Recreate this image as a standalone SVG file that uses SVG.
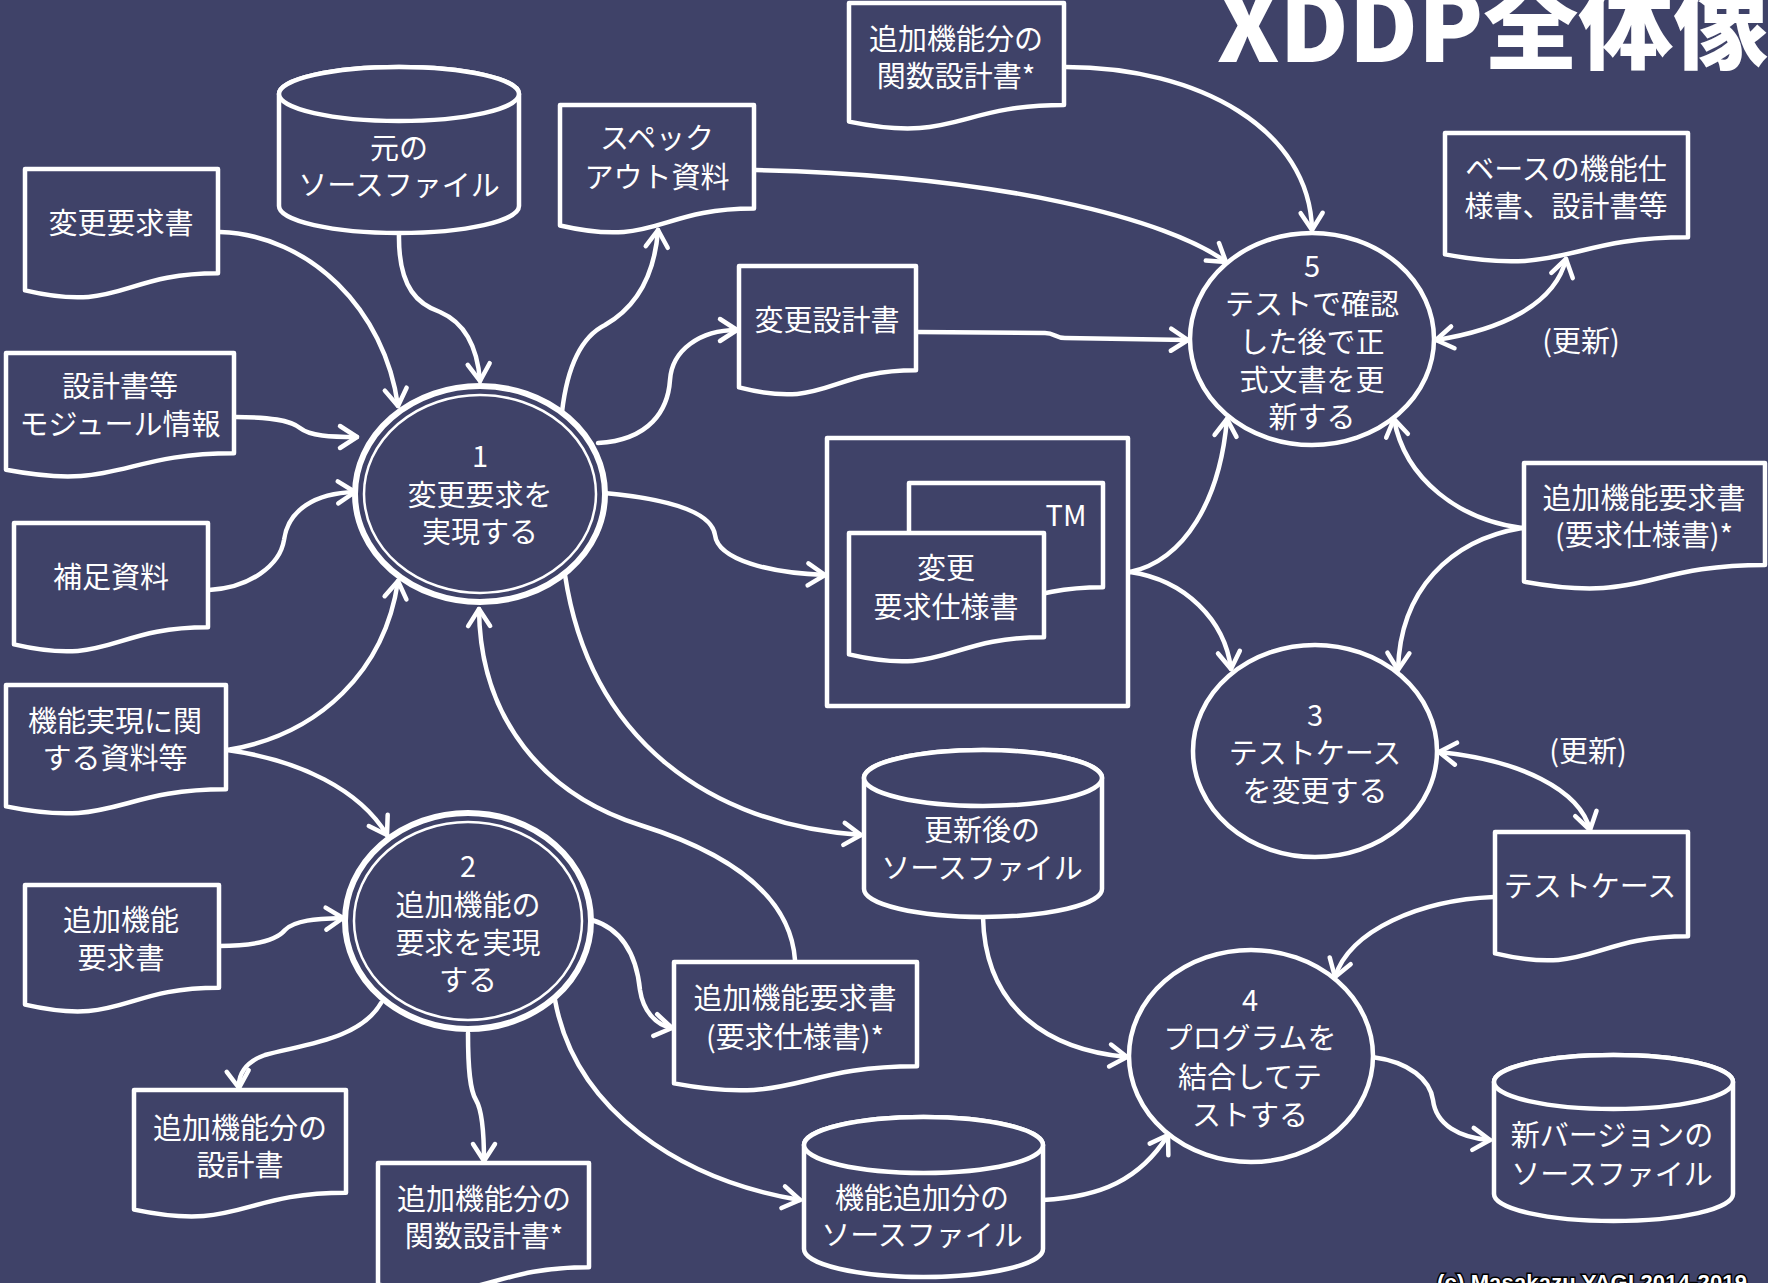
<svg xmlns="http://www.w3.org/2000/svg" width="1768" height="1283" viewBox="0 0 1768 1283">
<defs>
<style>
.shape{fill:#3f4268;stroke:#fff;stroke-width:4.5;stroke-linejoin:round}
.ring{fill:none;stroke:#fff;stroke-width:2.5}
.conn{fill:none;stroke:#fff;stroke-width:4.5;stroke-linecap:round}
.t{font-family:"Noto Sans CJK JP","Noto Sans",sans-serif;font-size:29px;fill:#fff;text-anchor:middle;dominant-baseline:central;transform:translate(0px,-3px)}
</style>
<marker id="ah" viewBox="-22 -15 26 30" refX="0" refY="0" markerWidth="26" markerHeight="30" markerUnits="userSpaceOnUse" orient="auto-start-reverse">
<path d="M-17,-11 L0,0 L-17,11" fill="none" stroke="#fff" stroke-width="4.5" stroke-linecap="round" stroke-linejoin="round"/>
</marker>
</defs>
<rect width="1768" height="1283" fill="#3f4268"/>

<g id="connectors" marker-end="url(#ah)">
<path class="conn" d="M220,232 C310,235 385,310 398,406"/>
<path class="conn" d="M399,234 C398,290 420,305 440,312 C470,325 478,355 480,381"/>
<path class="conn" d="M235,417 C270,417 290,420 300,428 C310,436 330,437 357,437"/>
<path class="conn" d="M209,590 C250,588 280,565 284,540 C288,510 315,493 355,492"/>
<path class="conn" d="M227,750 C320,735 385,670 398,581"/>
<path class="conn" d="M227,750 C300,760 360,790 387,835"/>
<path class="conn" d="M562,412 C568,360 585,335 605,325 C640,305 655,270 658,230"/>
<path class="conn" d="M598,443 C650,440 668,410 670,380 C672,350 700,330 737,330"/>
<path class="conn" d="M916,332 L1045,333 C1055,333 1055,338 1065,338 L1188,340"/>
<path class="conn" d="M756,170 C1000,175 1170,220 1226,262"/>
<path class="conn" d="M1065,67 C1200,67 1310,130 1312,230"/>
<path class="conn" marker-start="url(#ah)" d="M1436,340 C1500,330 1555,305 1566,259"/>
<path class="conn" d="M1130,572 C1185,560 1220,500 1227,419"/>
<path class="conn" d="M1130,572 C1185,580 1225,620 1231,669"/>
<path class="conn" d="M1522,528 C1460,520 1405,480 1394,419"/>
<path class="conn" d="M1522,528 C1450,540 1400,590 1398,670"/>
<path class="conn" marker-start="url(#ah)" d="M1439,752 C1520,760 1580,790 1590,830"/>
<path class="conn" d="M1494,897 C1420,900 1350,930 1335,977"/>
<path class="conn" d="M983,917 C985,1010 1050,1050 1127,1057"/>
<path class="conn" d="M1043,1200 C1100,1197 1140,1180 1168,1135"/>
<path class="conn" d="M1372,1057 C1410,1062 1430,1080 1433,1100 C1436,1125 1460,1138 1490,1140"/>
<path class="conn" d="M604,493 C680,500 712,515 715,535 C718,560 770,573 825,575"/>
<path class="conn" d="M565,575 C590,740 710,825 861,835"/>
<path class="conn" d="M795,960 C790,890 720,850 640,825 C545,795 480,720 479,609"/>
<path class="conn" d="M592,920 C625,930 637,960 640,990 C643,1010 655,1025 672,1028"/>
<path class="conn" d="M555,1000 C575,1110 680,1180 800,1200"/>
<path class="conn" d="M219,946 C250,946 275,942 285,930 C295,920 315,919 343,918"/>
<path class="conn" d="M381,1003 C360,1040 300,1045 265,1055 C245,1062 238,1075 239,1088"/>
<path class="conn" d="M468,1033 C468,1070 470,1090 476,1100 C482,1110 484,1130 484,1161"/>
</g>

<g id="title">
<text x="1217" y="62" style="font-family:'Noto Sans CJK JP','Noto Sans',sans-serif;font-size:95px;font-weight:900;fill:#fff">XDDP全体像</text>
</g>

<g id="doc-kansu-top">
<path class="shape" d="M849,3 H1064 V105 C956.5,105 956.5,143.7 849,121.6 Z"/>
<text class="t" x="956" y="40">追加機能分の</text>
<text class="t" x="956" y="77">関数設計書*</text>
</g>

<g id="doc-specout">
<path class="shape" d="M560,105 H754 V208.5 C657,208.5 657,247.9 560,225.5 Z"/>
<text class="t" x="657" y="139">スペック</text>
<text class="t" x="657" y="178">アウト資料</text>
</g>

<g id="db-moto">
<path class="shape" d="M279,94 V206 A120,27 0 0 0 519,206 V94 A120,27 0 0 0 279,94 Z"/>
<ellipse class="shape" cx="399" cy="94" rx="120" ry="27"/>
<text class="t" x="399" y="149">元の</text>
<text class="t" x="399" y="186">ソースファイル</text>
</g>

<g id="doc-henkoyokyu">
<path class="shape" d="M25,169 H218 V273.3 C121.5,273.3 121.5,313 25,290.4 Z"/>
<text class="t" x="121" y="224">変更要求書</text>
</g>

<g id="doc-sekkeisho">
<path class="shape" d="M6,353 H234 V453.3 C120,453.3 120,491.4 6,469.8 Z"/>
<text class="t" x="120" y="387">設計書等</text>
<text class="t" x="120" y="425">モジュール情報</text>
</g>

<g id="doc-henkosekkei">
<path class="shape" d="M739,266 H916 V370.3 C827.5,370.3 827.5,410 739,387.4 Z"/>
<text class="t" x="827" y="321">変更設計書</text>
</g>

<g id="doc-base">
<path class="shape" d="M1445,133 H1688 V237.3 C1566.5,237.3 1566.5,277 1445,254.4 Z"/>
<text class="t" x="1566" y="170">ベースの機能仕</text>
<text class="t" x="1566" y="207">様書、設計書等</text>
</g>

<g id="doc-hosoku">
<path class="shape" d="M14,523 H208 V627.3 C111,627.3 111,667 14,644.4 Z"/>
<text class="t" x="111" y="578">補足資料</text>
</g>

<g id="doc-kinojitsugen">
<path class="shape" d="M6,685 H226 V789.3 C116,789.3 116,829 6,806.4 Z"/>
<text class="t" x="115" y="722">機能実現に関</text>
<text class="t" x="115" y="759">する資料等</text>
</g>

<g id="doc-tsuika-yokyu-right">
<path class="shape" d="M1524,463 H1765 V564.9 C1644.5,564.9 1644.5,603.7 1524,581.6 Z"/>
<text class="t" x="1644" y="499">追加機能要求書</text>
<text class="t" x="1644" y="536">(要求仕様書)*</text>
</g>

<g id="doc-testcase">
<path class="shape" d="M1495,832 H1688 V936.3 C1591.5,936.3 1591.5,976 1495,953.4 Z"/>
<text class="t" x="1590" y="887">テストケース</text>
</g>

<g id="doc-tsuika-yokyu-left">
<path class="shape" d="M25,885 H219 V987.7 C122,987.7 122,1026.8 25,1004.6 Z"/>
<text class="t" x="121" y="921">追加機能</text>
<text class="t" x="121" y="959">要求書</text>
</g>

<g id="doc-tsuika-sekkei">
<path class="shape" d="M134,1090 H346 V1192.7 C240,1192.7 240,1231.8 134,1209.6 Z"/>
<text class="t" x="240" y="1129">追加機能分の</text>
<text class="t" x="240" y="1166">設計書</text>
</g>

<g id="doc-kansu-bottom">
<path class="shape" d="M378,1163 H589 V1267.3 C483.5,1267.3 483.5,1307 378,1284.4 Z"/>
<text class="t" x="484" y="1200">追加機能分の</text>
<text class="t" x="484" y="1237">関数設計書*</text>
</g>

<g id="doc-tsuika-yokyu-mid">
<path class="shape" d="M674,962 H917 V1066.3 C795.5,1066.3 795.5,1106 674,1083.4 Z"/>
<text class="t" x="795" y="999">追加機能要求書</text>
<text class="t" x="795" y="1038">(要求仕様書)*</text>
</g>

<g id="tm-store">
<rect class="shape" x="827" y="438" width="301" height="268"/>
<path class="shape" d="M909,483 H1103 V587.3 C1006,587.3 1006,627 909,604.4 Z"/>
<text class="t" x="1066" y="516">TM</text>
<path class="shape" d="M849,533 H1044 V637.3 C946.5,637.3 946.5,677 849,654.4 Z"/>
<text class="t" x="946" y="569">変更</text>
<text class="t" x="946" y="608">要求仕様書</text>
</g>

<g id="db-koshingo">
<path class="shape" d="M864,778 V889 A119,28 0 0 0 1102,889 V778 A119,28 0 0 0 864,778 Z"/>
<ellipse class="shape" cx="983" cy="778" rx="119" ry="28"/>
<text class="t" x="982" y="831">更新後の</text>
<text class="t" x="982" y="869">ソースファイル</text>
</g>

<g id="db-kinotsuika">
<path class="shape" d="M804,1145 V1249 A119.5,28 0 0 0 1043,1249 V1145 A119.5,28 0 0 0 804,1145 Z"/>
<ellipse class="shape" cx="923.5" cy="1145" rx="119.5" ry="28"/>
<text class="t" x="922" y="1199">機能追加分の</text>
<text class="t" x="922" y="1236">ソースファイル</text>
</g>

<g id="db-newversion">
<path class="shape" d="M1494,1082 V1194 A119.5,27 0 0 0 1733,1194 V1082 A119.5,27 0 0 0 1494,1082 Z"/>
<ellipse class="shape" cx="1613.5" cy="1082" rx="119.5" ry="27"/>
<text class="t" x="1612" y="1136">新バージョンの</text>
<text class="t" x="1612" y="1175">ソースファイル</text>
</g>

<g id="proc1">
<ellipse class="shape" cx="480" cy="494" rx="125" ry="108" style="stroke-width:6"/>
<ellipse class="ring" cx="480" cy="494" rx="116" ry="99"/>
<text class="t" x="480" y="457">1</text>
<text class="t" x="480" y="496">変更要求を</text>
<text class="t" x="480" y="533">実現する</text>
</g>

<g id="proc2">
<ellipse class="shape" cx="468" cy="921" rx="123" ry="108" style="stroke-width:6"/>
<ellipse class="ring" cx="468" cy="921" rx="114" ry="99"/>
<text class="t" x="468" y="867">2</text>
<text class="t" x="468" y="906">追加機能の</text>
<text class="t" x="468" y="944">要求を実現</text>
<text class="t" x="468" y="981">する</text>
</g>

<g id="proc5">
<ellipse class="shape" cx="1312" cy="339" rx="122" ry="106"/>
<text class="t" x="1312" y="267">5</text>
<text class="t" x="1312" y="305">テストで確認</text>
<text class="t" x="1312" y="343">した後で正</text>
<text class="t" x="1312" y="381">式文書を更</text>
<text class="t" x="1312" y="418">新する</text>
</g>

<g id="proc3">
<ellipse class="shape" cx="1315" cy="751" rx="122" ry="106"/>
<text class="t" x="1315" y="716">3</text>
<text class="t" x="1315" y="754">テストケース</text>
<text class="t" x="1315" y="792">を変更する</text>
</g>

<g id="proc4">
<ellipse class="shape" cx="1251" cy="1056" rx="122" ry="106"/>
<text class="t" x="1250" y="1001">4</text>
<text class="t" x="1250" y="1039">プログラムを</text>
<text class="t" x="1250" y="1078">結合してテ</text>
<text class="t" x="1250" y="1116">ストする</text>
</g>

<g id="labels">
<text class="t" x="1581" y="342">(更新)</text>
<text class="t" x="1588" y="752">(更新)</text>
</g>

<g id="copyright">
<text x="1437" y="1290" textLength="310" style="font-family:'Liberation Sans',sans-serif;font-size:22px;font-weight:bold;fill:#fff;stroke:#000;stroke-width:3;paint-order:stroke">(c) Masakazu YAGI  2014-2019</text>
</g>
</svg>
